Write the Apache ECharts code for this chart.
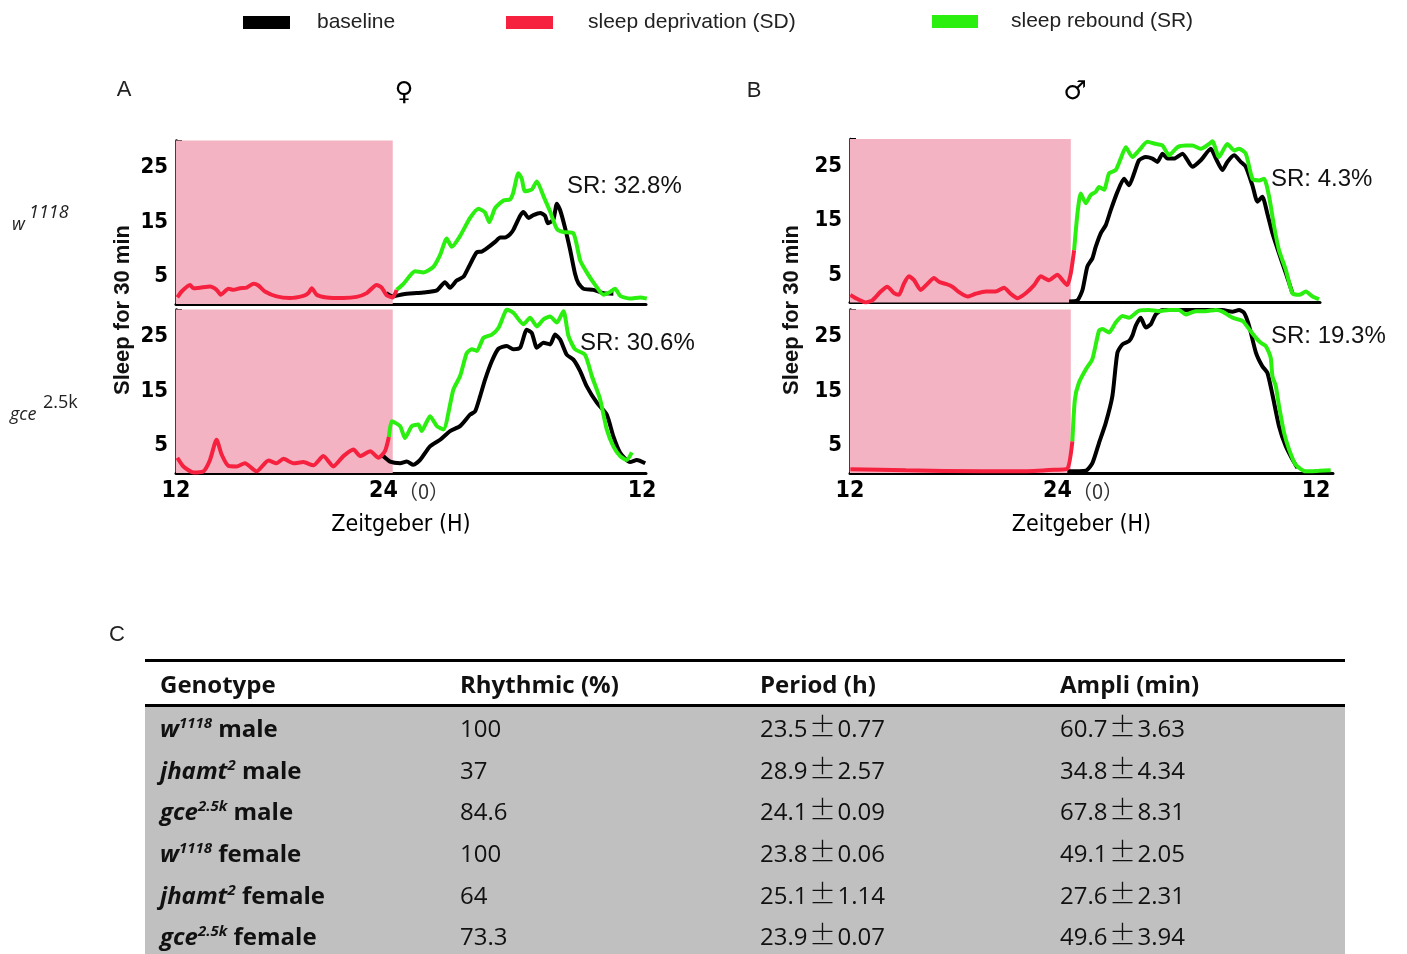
<!DOCTYPE html>
<html><head><meta charset="utf-8">
<script src="https://cdn.jsdelivr.net/npm/echarts@6/dist/echarts.min.js"></script>
<style>
html,body{margin:0;padding:0;background:#fff;}
#chart{position:absolute;left:0;top:0;width:1407px;height:954px;}
#tbl{position:absolute;left:145px;top:659px;width:1200px;font-family:'Open Sans',sans-serif;font-size:24px;color:#111;}
.rule{height:3px;background:#000;}
.row{display:flex;height:41.6px;align-items:center;}
.head{height:42px;font-weight:bold;}
.c{width:300px;box-sizing:border-box;padding-left:15px;white-space:nowrap;}
.body{background:#c0c0c0;}
.g{font-weight:bold;}
.g i{font-style:italic;}
sup{font-size:15px;vertical-align:9px;line-height:0;}
.pm{display:inline-block;width:30px;text-align:center;font-family:'Noto Sans CJK SC',sans-serif;font-size:27px;font-weight:300;line-height:1;}
</style></head>
<body>
<div id="chart"></div>
<div id="tbl"></div>
<script>
// ---------- data (x = Zeitgeber hour, 12 .. next-day 12 = 36; y = sleep per 30 min) ----------
const Y_LABELS = [5, 15, 25];
const X_TICKS = [12, 24, 36];

// A top: female w1118
const F_W_SD = [[12.07,1.2],[12.29,2.3],[12.72,3.5],[12.89,2.9],[13.24,3.0],[13.75,3.2],[14.09,2.6],[14.30,1.7],[14.70,2.8],[14.95,2.6],[15.30,2.9],[15.64,3.0],[15.98,3.7],[16.24,3.4],[16.58,2.3],[17.18,1.4],[17.87,1.1],[18.56,1.5],[18.82,2.0],[18.99,2.9],[19.24,1.7],[19.76,1.2],[20.62,1.1],[21.30,1.3],[21.82,2.0],[22.33,3.5],[22.59,3.0],[22.85,1.6],[23.16,1.2],[23.36,2.6]];
const F_W_BASE = [[22.82,2.0],[23.16,1.4],[23.71,1.8],[24.40,2.0],[24.74,2.1],[25.43,2.5],[25.85,4.0],[26.11,3.0],[26.45,4.3],[26.80,5.0],[27.06,6.7],[27.49,9.5],[27.74,9.6],[28.00,10.2],[28.43,11.4],[28.69,12.2],[28.94,12.2],[29.20,12.8],[29.37,13.6],[29.72,16.2],[29.89,16.9],[30.15,15.8],[30.40,16.3],[30.75,16.7],[31.00,16.2],[31.15,14.8],[31.43,15.5],[31.61,18.4],[31.78,17.2],[32.03,14.0],[32.29,10.0],[32.55,5.5],[32.72,3.8],[32.98,2.8],[33.49,2.6],[34.01,2.0],[34.52,1.9]];
const F_W_SR = [[23.36,2.6],[23.71,3.7],[24.31,6.0],[24.74,5.8],[25.25,6.8],[25.60,9.0],[25.94,12.0],[26.20,10.5],[26.63,12.5],[27.14,15.8],[27.57,17.5],[27.91,16.8],[28.13,15.0],[28.43,17.6],[28.86,19.0],[29.20,19.2],[29.37,20.5],[29.63,24.0],[29.80,23.0],[29.97,20.7],[30.32,21.0],[30.58,22.5],[30.92,19.8],[31.26,17.0],[31.61,13.8],[31.95,13.2],[32.46,13.0],[32.81,8.0],[33.15,5.8],[33.58,3.5],[34.01,1.7],[34.35,2.2],[34.61,2.8],[34.87,1.5],[35.38,1.0],[35.90,1.2],[36.24,1.0]];

// A bottom: female gce2.5k
const F_G_SD = [[12.07,2.8],[12.38,1.2],[12.89,0.1],[13.41,0.3],[13.75,2.4],[14.09,6.1],[14.35,3.4],[14.70,1.3],[15.12,1.2],[15.55,1.8],[16.15,0.3],[16.76,2.3],[17.18,1.8],[17.53,2.6],[18.05,1.8],[18.56,2.0],[19.07,1.4],[19.59,3.1],[20.10,1.2],[20.62,3.1],[21.14,4.3],[21.48,3.1],[22.00,4.0],[22.42,2.8],[22.76,4.0],[22.96,6.6]];
const F_G_BASE = [[22.64,3.2],[23.02,2.1],[23.54,1.8],[23.88,2.1],[24.22,1.5],[24.57,2.4],[25.08,4.9],[25.60,6.1],[26.11,7.7],[26.63,8.6],[27.14,10.7],[27.40,11.3],[27.66,14.1],[27.91,17.1],[28.26,20.5],[28.60,22.8],[29.03,23.3],[29.37,22.7],[29.72,23.0],[30.06,26.3],[30.32,25.7],[30.58,23.0],[30.92,23.9],[31.26,23.6],[31.52,25.4],[31.78,24.5],[32.12,21.7],[32.46,20.8],[32.81,18.7],[33.15,15.9],[33.67,12.9],[34.18,10.7],[34.52,6.7],[34.87,3.7],[35.38,2.0],[35.73,2.4],[36.16,1.8]];
const F_G_SR = [[22.96,6.6],[23.11,9.5],[23.54,8.6],[23.79,6.4],[24.14,8.6],[24.48,8.9],[24.65,7.7],[25.08,10.4],[25.43,8.6],[25.77,8.0],[26.28,15.3],[26.63,17.8],[26.97,22.0],[27.23,22.7],[27.49,22.4],[27.83,24.8],[28.26,25.4],[28.60,26.6],[28.86,28.8],[29.03,30.0],[29.37,29.4],[29.89,27.3],[30.23,28.5],[30.58,26.9],[30.92,28.2],[31.26,28.7],[31.61,27.6],[31.95,29.7],[32.21,25.1],[32.55,22.7],[33.06,21.7],[33.41,17.8],[33.84,13.5],[34.18,8.0],[34.52,4.9],[34.87,3.1],[35.21,2.4],[35.47,3.8]];

// B top: male w1118
const M_W_SD = [[12.02,1.4],[12.29,0.8],[12.81,0.0],[13.15,0.4],[13.58,2.0],[13.92,2.9],[14.27,1.7],[14.52,1.4],[14.78,3.5],[15.04,4.8],[15.30,4.1],[15.64,2.3],[15.98,3.4],[16.33,4.5],[16.58,3.8],[16.93,3.4],[17.27,2.9],[17.61,1.9],[18.04,1.1],[18.47,1.6],[18.99,2.0],[19.50,2.0],[19.93,2.7],[20.27,1.6],[20.62,0.8],[21.05,1.7],[21.48,3.2],[21.82,4.8],[22.25,4.1],[22.68,5.1],[22.94,4.1],[23.19,3.2],[23.37,5.4],[23.54,9.6]];
const M_W_BASE = [[23.28,0.2],[23.71,0.4],[23.97,2.3],[24.22,6.6],[24.48,8.1],[24.65,10.2],[24.91,12.7],[25.17,14.2],[25.43,17.0],[25.77,20.3],[26.11,22.7],[26.37,21.5],[26.63,23.7],[26.88,26.1],[27.23,26.7],[27.57,26.4],[27.83,25.8],[28.09,27.3],[28.35,26.4],[28.69,26.4],[29.12,27.3],[29.63,24.9],[30.06,26.1],[30.58,28.2],[30.84,26.4],[31.18,24.3],[31.43,25.8],[31.78,27.0],[32.12,25.8],[32.38,24.9],[32.72,21.5],[32.98,18.5],[33.23,19.4],[33.49,16.3],[33.75,12.7],[34.09,9.0],[34.44,5.4],[34.78,1.7]];
const M_W_SR = [[23.54,9.6],[23.71,16.3],[23.88,20.0],[24.14,18.2],[24.39,19.7],[24.65,20.3],[24.82,21.2],[25.08,20.7],[25.34,23.7],[25.68,24.3],[25.94,26.4],[26.20,28.5],[26.54,26.7],[26.88,27.9],[27.31,29.5],[27.74,29.1],[28.09,28.8],[28.43,27.0],[28.86,28.5],[29.29,28.8],[29.63,28.8],[30.06,28.2],[30.49,29.1],[30.66,29.6],[31.00,26.7],[31.43,29.1],[31.78,27.9],[32.03,28.2],[32.38,27.3],[32.72,22.7],[33.06,22.4],[33.32,22.7],[33.58,19.4],[33.84,13.9],[34.09,9.6],[34.44,6.0],[34.78,1.7],[35.13,1.4],[35.47,2.0],[35.82,1.1],[36.15,0.6]];

// B bottom: male gce2.5k
const M_G_SD = [[12.02,0.7],[14.87,0.5],[18.82,0.3],[20.88,0.3],[22.59,0.6],[23.19,0.8],[23.45,5.8]];
const M_G_BASE = [[23.19,0.3],[24.14,0.4],[24.48,1.8],[24.82,5.5],[25.17,9.2],[25.51,14.1],[25.77,22.1],[26.03,23.6],[26.37,24.2],[26.54,25.2],[26.71,27.0],[26.97,28.5],[27.23,26.7],[27.49,27.3],[27.74,29.1],[28.09,29.9],[28.60,29.9],[29.46,29.9],[30.32,29.9],[31.18,29.9],[31.69,29.6],[32.03,29.9],[32.29,29.4],[32.55,27.0],[32.90,22.1],[33.23,19.6],[33.49,18.4],[33.75,14.4],[34.09,8.6],[34.44,4.9],[34.78,2.5],[35.04,0.9]];
const M_G_SR = [[23.45,5.8],[23.58,13.5],[23.79,16.6],[24.14,19.0],[24.48,20.9],[24.82,26.1],[25.00,26.4],[25.34,25.8],[25.68,27.6],[26.03,28.8],[26.37,28.5],[26.88,29.8],[27.40,29.9],[27.91,29.7],[28.43,29.9],[28.94,29.9],[29.29,29.1],[29.80,29.7],[30.32,29.7],[30.84,29.9],[31.18,29.6],[31.69,28.5],[32.21,27.9],[32.55,26.4],[32.90,24.8],[33.15,23.9],[33.41,23.3],[33.66,21.2],[33.75,17.8],[33.92,16.0],[34.09,12.3],[34.35,7.4],[34.61,4.3],[34.95,1.5],[35.47,0.3],[36.15,0.4],[36.75,0.5]];

const SD_END = [23.16, 23.16, 23.37, 23.37];
const SR_TEXT = ['SR: 32.8%', 'SR: 30.6%', 'SR: 4.3%', 'SR: 19.3%'];

// table
const GENO = ['w', 'jhamt', 'gce', 'w', 'jhamt', 'gce'];
const GENO_SUP = ['1118', '2', '2.5k', '1118', '2', '2.5k'];
const SEX = ['male', 'male', 'male', 'female', 'female', 'female'];
const RHYTHMIC = ['100', '37', '84.6', '100', '64', '73.3'];
const PERIOD = ['23.5', '28.9', '24.1', '23.8', '25.1', '23.9'];
const PERIOD_SE = ['0.77', '2.57', '0.09', '0.06', '1.14', '0.07'];
const AMPLI = ['60.7', '34.8', '67.8', '49.1', '27.6', '49.6'];
const AMPLI_SE = ['3.63', '4.34', '8.31', '2.05', '2.31', '3.94'];
const HEADERS = ['Genotype', 'Rhythmic (%)', 'Period (h)', 'Ampli (min)'];

// ---------- build ----------
const C_BASE = '#000000', C_SD = '#f5213f', C_SR = '#2aef0f', C_PINK = '#f4b3c2';
const TICK_FONT = '"DejaVu Sans Condensed", "DejaVu Sans", sans-serif';
const PANEL_DATA = [[F_W_SD, F_W_BASE, F_W_SR], [F_G_SD, F_G_BASE, F_G_SR], [M_W_SD, M_W_BASE, M_W_SR], [M_G_SD, M_G_BASE, M_G_SR]];
const LAYOUT = [
  {left: 176, top: 140.5, width: 470, max: 36.2, bottom: false},
  {left: 176, top: 309.5, width: 470, max: 36.2, bottom: true},
  {left: 850, top: 139, width: 470, max: 36.2, bottom: false},
  {left: 850, top: 309.5, width: 483, max: 36.87, bottom: true}
];

const grid = [], xAxis = [], yAxis = [], series = [];
LAYOUT.forEach((L, i) => {
  grid.push({left: L.left, top: L.top, width: L.width, height: 163.5});
  xAxis.push({
    type: 'value', gridIndex: i, min: 12, max: L.max,
    axisLine: {show: true, onZero: false, lineStyle: {color: '#000', width: 3}},
    axisTick: {show: false}, splitLine: {show: false},
    axisLabel: {
      show: L.bottom, customValues: X_TICKS, margin: 7,
      formatter: v => v === 24 ? '{a|24}{b|（0）}' : '{a|12}',
      rich: {a: {fontFamily: TICK_FONT, fontSize: 23, fontWeight: 'bold', color: '#000'},
             b: {fontFamily: '"Noto Sans CJK SC", sans-serif', fontSize: 20, color: '#333'}}
    },
    name: L.bottom ? 'Zeitgeber (H)' : '', nameLocation: 'middle', nameGap: 41,
    nameTextStyle: {fontFamily: TICK_FONT, fontSize: 23, color: '#000', padding: [0, 20, 0, 0]}
  });
  yAxis.push({
    type: 'value', gridIndex: i, min: 0, max: 30, interval: 5,
    axisLine: {show: true, lineStyle: {color: '#000', width: 2.5}},
    axisTick: {show: true, inside: true, length: 6, lineStyle: {color: '#000', width: 2}},
    splitLine: {show: false},
    axisLabel: {formatter: v => Y_LABELS.includes(v) ? String(v) : '', fontFamily: TICK_FONT, fontSize: 22, fontWeight: 'bold', color: '#000', margin: 8, padding: [7, 0, 0, 0]}
  });
  const [sd, base, sr] = PANEL_DATA[i];
  series.push({
    name: 'sd-area', type: 'line', xAxisIndex: i, yAxisIndex: i, data: [], z: 1, silent: true,
    markArea: {silent: true, itemStyle: {color: C_PINK, opacity: 1}, data: [[{xAxis: 12, yAxis: 0}, {xAxis: SD_END[i], yAxis: 30}]]}
  });
  const common = {type: 'line', xAxisIndex: i, yAxisIndex: i, showSymbol: false, symbol: 'none', smooth: 0.2, silent: true};
  series.push(Object.assign({}, common, {name: 'baseline', data: base, z: 3, itemStyle: {color: C_BASE}, lineStyle: {color: C_BASE, width: 4}}));
  series.push(Object.assign({}, common, {name: 'sleep rebound (SR)', data: sr, z: 4, itemStyle: {color: C_SR}, lineStyle: {color: C_SR, width: 4}}));
  series.push(Object.assign({}, common, {name: 'sleep deprivation (SD)', data: sd, z: 5, itemStyle: {color: C_SD}, lineStyle: {color: C_SD, width: 4}}));
});

const legendText = pad => ({fontFamily: '"Liberation Sans", Arial, sans-serif', fontSize: 21, color: '#222', padding: [0, 0, 0, pad]});
const legend = [
  {data: ['baseline'], left: 238, top: 7, itemWidth: 47, itemHeight: 13, icon: 'rect', selectedMode: false, textStyle: legendText(22)},
  {data: ['sleep deprivation (SD)'], left: 501, top: 7, itemWidth: 47, itemHeight: 13, icon: 'rect', selectedMode: false, textStyle: legendText(30)},
  {data: ['sleep rebound (SR)'], left: 927, top: 6, itemWidth: 46, itemHeight: 13, icon: 'rect', selectedMode: false, textStyle: legendText(28)}
];

const T = (x, y, text, font, opt) => Object.assign({type: 'text', x: x, y: y, silent: true,
  style: Object.assign({text: text, font: font, fill: '#222', align: 'left', verticalAlign: 'middle'}, opt || {})});
const SR_POS = [[567, 186], [580, 343], [1271, 179], [1271, 336]];
const graphic = [
  T(124, 90, 'A', '22px "Liberation Sans"', {align: 'center'}),
  T(754, 91, 'B', '22px "Liberation Sans"', {align: 'center'}),
  T(404, 93, '♀', 'bold 26px "DejaVu Sans"', {align: 'center', fill: '#000'}),
  T(1075, 92, '♂', 'bold 26px "DejaVu Sans"', {align: 'center', fill: '#000'}),
  T(117, 635, 'C', '22px "Liberation Sans"', {align: 'center'}),
  Object.assign(T(123, 310, 'Sleep for 30 min', 'bold 22px "Liberation Sans"', {align: 'center', fill: '#111'}), {rotation: Math.PI / 2}),
  Object.assign(T(792, 310, 'Sleep for 30 min', 'bold 22px "Liberation Sans"', {align: 'center', fill: '#111'}), {rotation: Math.PI / 2}),
  T(12, 225, 'w', 'italic 18px "Open Sans"'),
  T(29, 213, '1118', 'italic 18px "Open Sans"'),
  T(10, 415, 'gce', 'italic 18px "Open Sans"'),
  T(43, 403, '2.5k', '18px "Open Sans"')
];
SR_POS.forEach((p, i) => graphic.push(T(p[0], p[1], SR_TEXT[i], '24px "Liberation Sans"', {fill: '#111'})));

const chart = echarts.init(document.getElementById('chart'), null, {renderer: 'canvas'});
chart.setOption({animation: false, backgroundColor: 'transparent', legend, grid, xAxis, yAxis, series, graphic});

// table
let html = '<div class="rule"></div><div class="row head">' + HEADERS.map(h => '<div class="c">' + h + '</div>').join('') + '</div><div class="rule"></div><div class="body">';
GENO.forEach((g, i) => {
  html += '<div class="row"><div class="c g"><i>' + g + '<sup>' + GENO_SUP[i] + '</sup></i> ' + SEX[i] + '</div>' +
    '<div class="c">' + RHYTHMIC[i] + '</div>' +
    '<div class="c">' + PERIOD[i] + '<span class="pm">±</span>' + PERIOD_SE[i] + '</div>' +
    '<div class="c">' + AMPLI[i] + '<span class="pm">±</span>' + AMPLI_SE[i] + '</div></div>';
});
html += '</div>';
document.getElementById('tbl').innerHTML = html;
</script>
</body></html>
